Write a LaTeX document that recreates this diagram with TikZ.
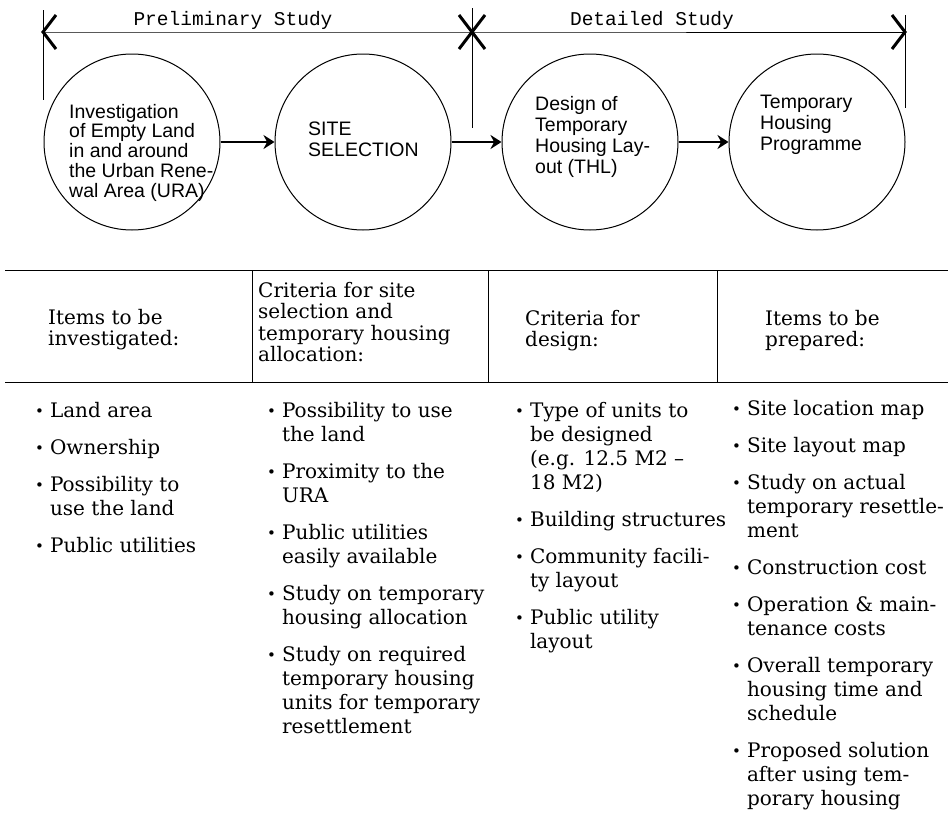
\documentclass[tikz,border=0pt]{standalone}
\usepackage{fontspec}
\setmainfont{DejaVu Serif}
\setsansfont{Liberation Sans}
\setmonofont{Liberation Mono}
\usepackage{tikz}
\usetikzlibrary{arrows.meta, positioning}

\newcommand{\cellstack}[1]{\begin{tabular}[t]{@{}l@{}}#1\end{tabular}}
\newcommand{\itemstack}[1]{\begin{tabular}[t]{@{}l@{\hspace{6pt}}l@{}}#1\end{tabular}}
\newcommand{\bul}{\raisebox{1pt}{\fontsize{15}{15}\selectfont\textbullet}}

\begin{document}
\begin{tikzpicture}[x=1pt, y=-1pt,
    stage/.style={circle, draw, line width=1pt, minimum size=176pt, inner sep=0pt},
    stagetext/.style={anchor=base west, inner sep=0pt, font=\sffamily\fontsize{19.5}{21}\selectfont},
    phase/.style={anchor=base, inner sep=0pt, font=\ttfamily\fontsize{19.5}{20}\selectfont},
    phasespan/.style={line width=0.6pt},
    barb/.style={line width=3pt},
    bound/.style={line width=0.8pt},
    flow/.style={-{Stealth[length=11pt, width=14pt]}, line width=1.8pt},
    tablerule/.style={line width=0.9pt},
    headtext/.style={anchor=base west, inner sep=0pt, font=\fontsize{20}{21.5}\selectfont},
    itemtext/.style={anchor=base west, inner sep=0pt, font=\fontsize{20}{24}\selectfont}
  ]
  \useasboundingbox (0,0) rectangle (948,814);

  \coordinate (pl) at (43,32);
  \coordinate (pm) at (472,32);
  \coordinate (pr) at (905,32);
  \draw[bound] (pl) ++(0,-22) -- ++(0,90);
  \draw[bound] (pm) ++(0,-24) -- ++(0,120);
  \draw[bound] (pr) ++(0,-17) -- ++(0,93);
  \draw[phasespan] (pl) -- (pm) -- (pr);
  \draw[barb] ([shift={(13,-17)}]pl) -- (pl) -- ([shift={(13,17)}]pl);
  \draw[barb] ([shift={(-13,-17)}]pm) -- (pm) -- ([shift={(-13,17)}]pm);
  \draw[barb] ([shift={(13,-17)}]pm) -- (pm) -- ([shift={(13,17)}]pm);
  \draw[barb] ([shift={(-13,-17)}]pr) -- (pr) -- ([shift={(-13,17)}]pr);
  \node[phase] (prelim) at (233,25) {Preliminary Study};
  \node[phase] (detail) at (652,25) {Detailed Study};

  \node[stage] (inv) at (132,142) {};
  \node[stage] (sel) at (363,142) {};
  \node[stage] (des) at (590,142) {};
  \node[stage] (prog) at (817,142) {};
  \draw[flow] (inv) -- (sel);
  \draw[flow] (sel) -- (des);
  \draw[flow] (des) -- (prog);

  \node[stagetext, font=\sffamily\fontsize{19.5}{19.5}\selectfont] (invtext) at (69,118) {\cellstack{Investigation\\of Empty Land\\in and around\\the Urban Rene-\\wal Area (URA)}};
  \node[stagetext] (seltext) at (308,135) {\cellstack{SITE\\SELECTION}};
  \node[stagetext] (destext) at (535,110) {\cellstack{Design of\\Temporary\\Housing Lay-\\out (THL)}};
  \node[stagetext] (progtext) at (760,108) {\cellstack{Temporary\\Housing\\Programme}};

  \draw[tablerule] (5,270) -- (948,270);
  \draw[tablerule] (5,382) -- (948,382);
  \foreach \x in {252,488,717}
    \draw[tablerule] (\x,270) -- (\x,382);

  \node[headtext] (invhead) at (48,324) {\cellstack{Items to be\\investigated:}};
  \node[headtext] (selhead) at (258,297) {\cellstack{Criteria for site\\selection and\\temporary housing\\allocation:}};
  \node[headtext] (deshead) at (525,325) {\cellstack{Criteria for\\design:}};
  \node[headtext] (proghead) at (765,325) {\cellstack{Items to be\\prepared:}};

  \node[itemtext] (invitems) at (35,417) {\itemstack{%
    \bul & Land area\\[13pt]
    \bul & Ownership\\[13pt]
    \bul & Possibility to\\ & use the land\\[13pt]
    \bul & Public utilities}};
  \node[itemtext] (selitems) at (267,417) {\itemstack{%
    \bul & Possibility to use\\ & the land\\[13pt]
    \bul & Proximity to the\\ & URA\\[13pt]
    \bul & Public utilities\\ & easily available\\[13pt]
    \bul & Study on temporary\\ & housing allocation\\[13pt]
    \bul & Study on required\\ & temporary housing\\ & units for temporary\\ & resettlement}};
  \node[itemtext] (desitems) at (515,417) {\itemstack{%
    \bul & Type of units to\\ & be designed\\ & (e.g. 12.5 M2 --\\ & 18 M2)\\[13pt]
    \bul & Building structures\\[13pt]
    \bul & Community facili-\\ & ty layout\\[13pt]
    \bul & Public utility\\ & layout}};
  \node[itemtext] (progitems) at (732,415) {\itemstack{%
    \bul & Site location map\\[13pt]
    \bul & Site layout map\\[13pt]
    \bul & Study on actual\\ & temporary resettle-\\ & ment\\[13pt]
    \bul & Construction cost\\[13pt]
    \bul & Operation \& main-\\ & tenance costs\\[13pt]
    \bul & Overall temporary\\ & housing time and\\ & schedule\\[13pt]
    \bul & Proposed solution\\ & after using tem-\\ & porary housing}};
\end{tikzpicture}
\end{document}
